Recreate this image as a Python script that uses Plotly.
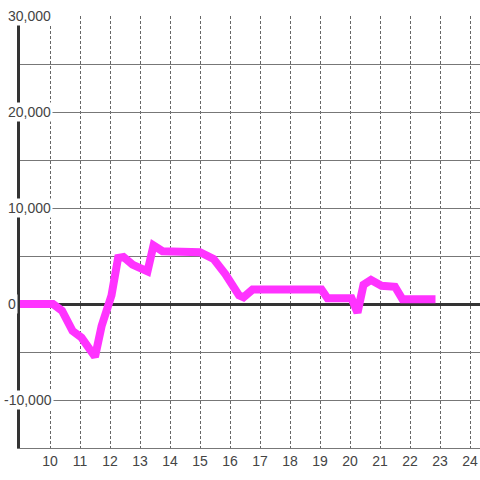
import plotly.graph_objects as go

# hours of the day and the running value
hours = [9.0, 10.1, 10.4, 10.75, 11.05, 11.4, 11.5, 11.72, 12.05, 12.27, 12.45,
         12.75, 13.0, 13.25, 13.45, 13.75, 15.0, 15.45, 15.85, 16.1, 16.3, 16.45,
         16.75, 19.05, 19.25, 20.05, 20.25, 20.45, 20.7, 21.05, 21.5, 21.75, 22.85]
values = [0, 0, -700, -2800, -3500, -5100, -5500, -2300, 900, 4800, 4900,
          4100, 3800, 3400, 6100, 5500, 5400, 4700, 3100, 2000, 900, 700,
          1500, 1500, 600, 600, -900, 2000, 2500, 1900, 1800, 500, 500]

x_ticks = list(range(10, 25))
y_ticks = [30000, 20000, 10000, 0, -10000]
y_tick_text = ["30,000", "20,000", "10,000", "0", "-10,000"]

FONT = "Liberation Sans, Arial, sans-serif"

fig = go.Figure()
fig.add_trace(go.Scatter(x=hours, y=values, mode="lines",
                         line=dict(color="#ff33ff", width=8),
                         hoverinfo="skip", showlegend=False))

# y tick labels sit on a white box over the axis line
for v, t in zip(y_ticks, y_tick_text):
    fig.add_annotation(x=(6 - 20) / 460, xref="paper", y=v, yref="y",
                       xanchor="left", yanchor="middle", text=t, showarrow=False,
                       xshift=-4 if v < 0 else 0,
                       bgcolor="white", borderpad=1,
                       font=dict(family=FONT, size=14, color="#444"))

fig.update_xaxes(range=[9, 9 + 460 / 30], tickvals=x_ticks, ticks="",
                 showgrid=True, gridcolor="#666", griddash="3px,2px", gridwidth=1,
                 showline=True, linecolor="#777", linewidth=1,
                 zeroline=False, tickfont=dict(family=FONT, size=14, color="#444"))
fig.update_yaxes(range=[-15000, 30000], dtick=5000, showticklabels=False, ticks="",
                 showgrid=True, gridcolor="#777", gridwidth=1,
                 showline=True, linecolor="#333", linewidth=3,
                 zeroline=True, zerolinecolor="#333", zerolinewidth=3)

fig.update_layout(width=480, height=480, margin=dict(l=20, r=0, t=16, b=32),
                  plot_bgcolor="white", paper_bgcolor="white",
                  font=dict(family=FONT))

# drop the default body margin so the figure fills the window
fig.write_html("out.html", config={"displayModeBar": False},
               post_script="document.body.style.margin='0';")
